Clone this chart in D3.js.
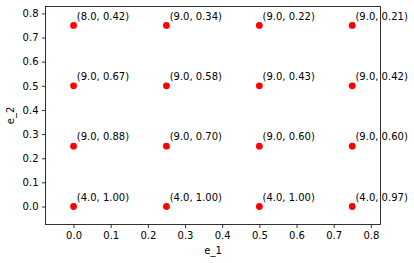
<!DOCTYPE html>
<html>
<head>
<meta charset="utf-8">
<script src="https://cdn.jsdelivr.net/npm/d3@7"></script>
<style>
  body { margin: 0; background: #fff; }
  svg { display: block; font-family: "DejaVu Sans", sans-serif; }
</style>
</head>
<body>
<svg id="chart" width="414" height="263"></svg>
<script>
// grid of points, row by row from the top
const e1Values = [0, 0.25, 0.5, 0.75, 0, 0.25, 0.5, 0.75, 0, 0.25, 0.5, 0.75, 0, 0.25, 0.5, 0.75];
const e2Values = [0.75, 0.75, 0.75, 0.75, 0.5, 0.5, 0.5, 0.5, 0.25, 0.25, 0.25, 0.25, 0, 0, 0, 0];
const firstLabel = [8.0, 9.0, 9.0, 9.0, 9.0, 9.0, 9.0, 9.0, 9.0, 9.0, 9.0, 9.0, 4.0, 4.0, 4.0, 4.0];
const secondLabel = [0.42, 0.34, 0.22, 0.21, 0.67, 0.58, 0.43, 0.42, 0.88, 0.70, 0.60, 0.60, 1.00, 1.00, 1.00, 0.97];
const xTicks = [0.0, 0.1, 0.2, 0.3, 0.4, 0.5, 0.6, 0.7, 0.8];
const yTicks = [0.0, 0.1, 0.2, 0.3, 0.4, 0.5, 0.6, 0.7, 0.8];

const plot = { left: 45.5, right: 380.5, top: 6.5, bottom: 224.5 };

const x = d3.scaleLinear().domain([-0.0755, 0.826]).range([plot.left, plot.right]);
const y = d3.scaleLinear().domain([-0.0745, 0.8285]).range([plot.bottom, plot.top]);

const svg = d3.select('#chart');

const xAxis = svg.append('g')
  .attr('transform', `translate(0,${plot.bottom})`)
  .call(d3.axisBottom(x).tickValues(xTicks).tickFormat(d3.format('.1f')).tickSizeOuter(0).tickSize(3.5).tickPadding(3.5));
const yAxis = svg.append('g')
  .attr('transform', `translate(${plot.left},0)`)
  .call(d3.axisLeft(y).tickValues(yTicks).tickFormat(d3.format('.1f')).tickSizeOuter(0).tickSize(3.5).tickPadding(3.5));

[xAxis, yAxis].forEach(ax => {
  ax.select('.domain').remove();
  ax.selectAll('text').attr('font-size', 10).attr('fill', '#000').attr('font-family', '"DejaVu Sans", sans-serif');
  ax.selectAll('line').attr('stroke', '#000').attr('stroke-width', 0.8);
});

// frame
svg.append('rect')
  .attr('x', plot.left).attr('y', plot.top)
  .attr('width', plot.right - plot.left).attr('height', plot.bottom - plot.top)
  .attr('fill', 'none').attr('stroke', '#000').attr('stroke-width', 0.8);

const points = e1Values.map((v, i) => ({ e1: v, e2: e2Values[i], a: firstLabel[i], b: secondLabel[i] }));

svg.append('g').selectAll('circle')
  .data(points).enter().append('circle')
  .attr('cx', d => x(d.e1))
  .attr('cy', d => y(d.e2))
  .attr('r', 3.4)
  .attr('fill', '#ff0000');

svg.append('g').selectAll('text')
  .data(points).enter().append('text')
  .attr('x', d => x(d.e1) + 3.2)
  .attr('y', d => y(d.e2) - 5.8)
  .attr('font-size', 10)
  .attr('fill', '#000')
  .text(d => `(${d.a.toFixed(1)}, ${d.b.toFixed(2)})`);

svg.append('text')
  .attr('x', (plot.left + plot.right) / 2)
  .attr('y', 254)
  .attr('text-anchor', 'middle')
  .attr('font-size', 10)
  .text('e_1');

svg.append('text')
  .attr('transform', `translate(14,${(plot.top + plot.bottom) / 2}) rotate(-90)`)
  .attr('text-anchor', 'middle')
  .attr('font-size', 10)
  .text('e_2');
</script>
</body>
</html>
